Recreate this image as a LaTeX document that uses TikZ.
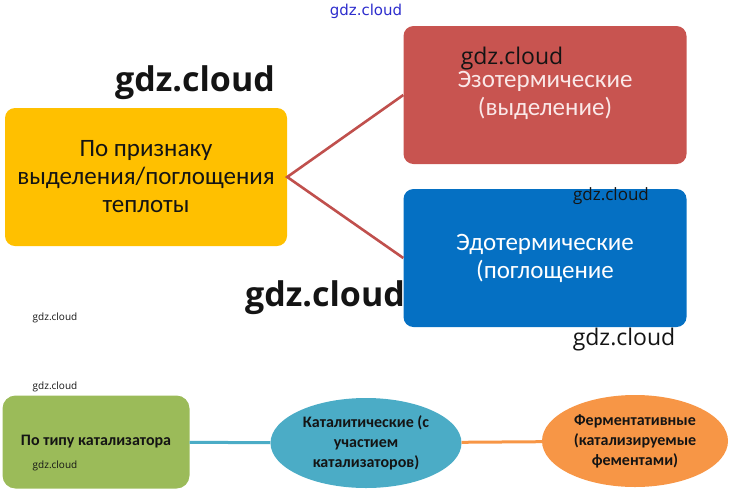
\documentclass[tikz,border=0pt]{standalone}
\usepackage{fontspec}
\setmainfont{Carlito}
\newfontfamily\wmfont{Open Sans}
\newfontfamily\wmtopfont{DejaVu Sans}
\usetikzlibrary{shapes.geometric}
\definecolor{ink}{RGB}{20,20,20}
\definecolor{heatfill}{RGB}{255,192,0}
\definecolor{exofill}{RGB}{200,84,80}
\definecolor{endofill}{RGB}{5,112,195}
\definecolor{linkred}{RGB}{192,80,77}
\definecolor{catgreen}{RGB}{155,187,89}
\definecolor{catteal}{RGB}{75,172,198}
\definecolor{catorange}{RGB}{247,150,70}
\definecolor{paletext}{RGB}{250,232,232}
\definecolor{wmblue}{RGB}{45,45,205}
\tikzset{
  bigbox/.style={rounded corners=10pt, align=center, inner sep=0pt,
    minimum width=282pt, minimum height=138pt,
    font=\fontsize{25}{28}\selectfont},
  catbox/.style={rounded corners=13pt, align=center, inner sep=0pt,
    fill=catgreen, minimum width=187pt, minimum height=93pt,
    font=\bfseries\fontsize{16}{20}\selectfont, text=ink},
  oval/.style={ellipse, align=center, inner sep=0pt,
    font=\bfseries\fontsize{16}{20}\selectfont, text=ink},
  link/.style={line width=2.6pt, draw=linkred},
  link2/.style={line width=3pt},
  wm/.style={text=ink, inner sep=0pt},
}

\begin{document}
\begin{tikzpicture}[x=1pt,y=-1pt]
  \useasboundingbox (0,0) rectangle (733,499);
  % heat criterion
  \node[bigbox, fill=heatfill, text=ink] (heat) at (146,177)
    {По признаку\\выделения/поглощения\\теплоты};
  \node[bigbox, fill=exofill, text=paletext, minimum width=283pt] (exo) at (545,95)
    {Эзотермические\\(выделение)};
  \node[bigbox, fill=endofill, text=white, minimum width=283pt] (endo) at (545,258)
    {Эдотермические\\(поглощение};
  \draw[link] (exo.west) -- (heat.east) -- (endo.west);
  % catalyst criterion
  \node[catbox] (cat) at (96,442) {По типу катализатора};
  \node[oval, fill=catteal, minimum width=191pt, minimum height=90pt] (catal) at (366,443)
    {Каталитические (с\\участием\\катализаторов)};
  \node[oval, fill=catorange, minimum width=186pt, minimum height=92pt] (ferm) at (635,441)
    {Ферментативные\\(катализируемые\\фементами)};
  \draw[link2, draw=catteal] (cat) -- (catal);
  \draw[link2, draw=catorange] (catal) -- (ferm);
  % watermarks
  \node[wm, text=wmblue, font=\wmtopfont\fontsize{15}{15}\selectfont] (wm1) at (366,11) {gdz.cloud};
  \node[wm, font=\wmfont\fontsize{34}{34}\selectfont\bfseries] (wm2) at (195,83) {gdz.cloud};
  \node[wm, font=\wmfont\fontsize{23}{23}\selectfont] (wm3) at (512,59) {gdz.cloud};
  \node[wm, font=\wmfont\fontsize{17}{17}\selectfont] (wm4) at (611,196) {gdz.cloud};
  \node[wm, font=\wmfont\fontsize{34}{34}\selectfont\bfseries] (wm5) at (325,298) {gdz.cloud};
  \node[wm, font=\wmfont\fontsize{23}{23}\selectfont] (wm6) at (624,340) {gdz.cloud};
  \node[wm, font=\wmfont\fontsize{10}{10}\selectfont] (wm7) at (55,318) {gdz.cloud};
  \node[wm, font=\wmfont\fontsize{10}{10}\selectfont] (wm8) at (55,387) {gdz.cloud};
  \node[wm, font=\wmfont\fontsize{10}{10}\selectfont] (wm9) at (55,466) {gdz.cloud};
\end{tikzpicture}
\end{document}
